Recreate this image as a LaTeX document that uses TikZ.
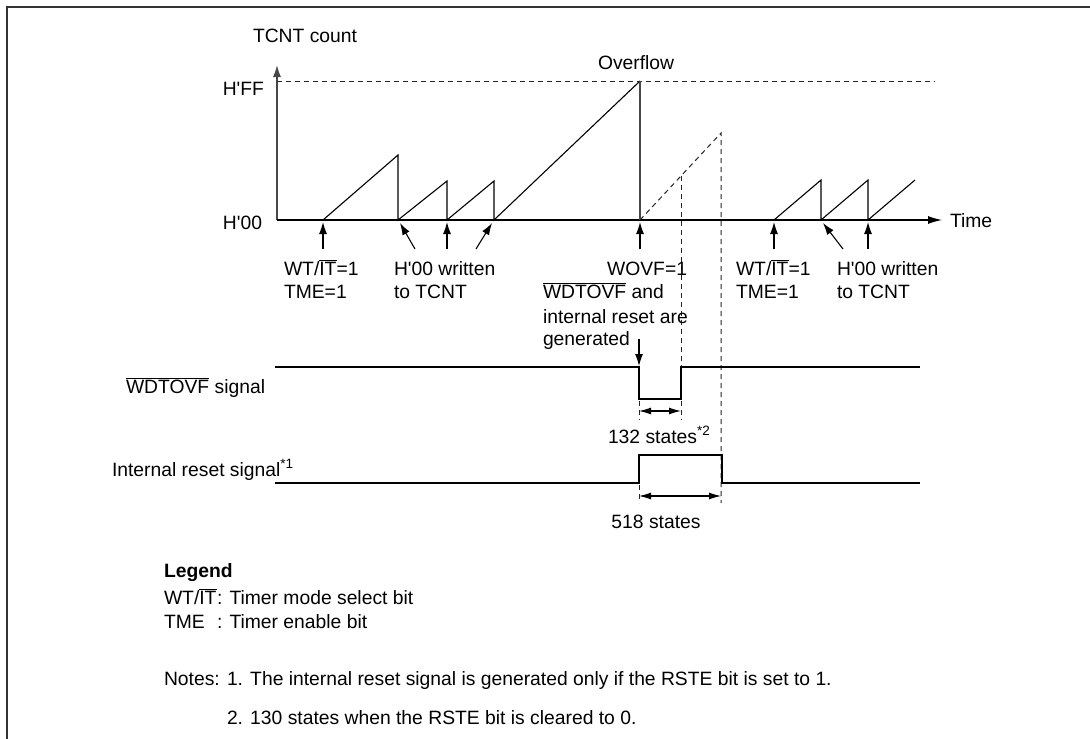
\documentclass[tikz,border=0pt]{standalone}
\usepackage{fontspec}
\setmainfont{Liberation Sans}[Ligatures=TeXOff]
\usetikzlibrary{arrows.meta}
\newcommand\fnt{\fontsize{19.3}{23}\selectfont}
\newcommand\ovl[1]{$\overline{\mbox{#1}}$}
\tikzset{
  lbl/.style={font=\fnt, inner sep=0pt, outer sep=0pt, anchor=base west},
  lble/.style={font=\fnt, inner sep=0pt, outer sep=0pt, anchor=base east},
  wave/.style={line width=1.1pt, black},
  axisline/.style={line width=1.6pt, black!72},
  dashline/.style={line width=1pt, black!85, dash pattern=on 5pt off 4pt},
  tip/.style={-{Latex[length=12pt,width=8pt]}, line width=1.1pt},
  dim/.style={{Latex[length=12pt,width=7pt]}-{Latex[length=12pt,width=7pt]}, line width=1.1pt},
  frameline/.style={line width=1.6pt, black!80}
}
\begin{document}
\begin{tikzpicture}[x=1pt,y=-1pt]
\useasboundingbox (0,0) rectangle (1090,739);
\fill[white] (0,0) rectangle (1090,739);
% frame
\draw[frameline] (7,739) -- (7,7) -- (1090,7);

% axes
\coordinate (O) at (277,220);
\coordinate (Ytop) at (277,65);
\coordinate (Tend) at (942,220);
\coordinate (FFl) at (277,81);
\coordinate (FFr) at (935,81);
\draw[axisline,-{Latex[length=12pt,width=8pt]}] (O) -- (Ytop);
\draw[wave,-{Latex[length=14pt,width=8pt]}] (O) -- (Tend);
\draw[dashline] (FFl) -- (FFr);

\node[lbl] (tcnt) at (253,42) {TCNT count};
\node[lbl] (ovf) at (598,69) {Overflow};
\node[lble] (hff) at (264,95) {H'FF};
\node[lble] (h00) at (262,229) {H'00};
\node[lbl] (time) at (950,227) {Time};

% sawtooth
\coordinate (s1) at (323,220);
\coordinate (p1) at (398,155);
\coordinate (s2) at (398,220);
\coordinate (p2) at (447,181);
\coordinate (s3) at (447,220);
\coordinate (p3) at (494,181);
\coordinate (s4) at (494,220);
\coordinate (pov) at (640,81);
\coordinate (sov) at (640,220);
\draw[wave] (s1) -- (p1) -- (s2) -- (p2) -- (s3) -- (p3) -- (s4) -- (pov);
\draw[axisline] (pov) -- (sov);
% dashed continuation
\coordinate (dpk) at (721,133);
\coordinate (dmid) at (681,176);
\draw[dashline] (sov) -- (dpk) -- (721,503);
\draw[dashline] (dmid) -- (681,420);
% second sawtooth
\coordinate (r1) at (774,220);
\coordinate (q1) at (821,180);
\coordinate (r2) at (821,220);
\coordinate (q2) at (868,180);
\coordinate (r3) at (868,220);
\coordinate (q3) at (915,180);
\draw[wave] (r1) -- (q1) -- (r2) -- (q2) -- (r3) -- (q3);

% event arrows
\draw[tip] (323,249) -- (323,222);
\draw[tip] (415,249) -- (400,223);
\draw[tip] (447,249) -- (447,222);
\draw[tip] (476,249) -- (492,223);
\draw[tip] (640,249) -- (640,222);
\draw[tip] (774,249) -- (774,222);
\draw[tip] (843,249) -- (823,223);
\draw[tip] (868,249) -- (868,222);

% event labels
\node[lbl] (wt1) at (284,275) {WT/\ovl{IT}=1};
\node[lbl] (tme1) at (284,298) {TME=1};
\node[lbl] (hw1) at (394,275) {H'00 written};
\node[lbl] (tt1) at (394,298) {to TCNT};
\node[lble] (wovf) at (687,275) {WOVF=1};
\node[lbl] (gen1) at (543,298) {\ovl{WDTOVF} and};
\node[lbl] (gen2) at (543,323) {internal reset are};
\node[lbl] (gen3) at (543,345) {generated};
\node[lbl] (wt2) at (736,275) {WT/\ovl{IT}=1};
\node[lbl] (tme2) at (736,298) {TME=1};
\node[lbl] (hw2) at (837,275) {H'00 written};
\node[lbl] (tt2) at (837,298) {to TCNT};

\draw[tip] (639,339) -- (639,366);

% WDTOVF signal
\node[lbl] (wsig) at (126,393) {\ovl{WDTOVF} signal};
\draw[wave] (275,367) -- (639,367) -- (639,399) -- (681,399) -- (681,367) -- (920,367);
\draw[dashline] (639,401) -- (639,420);
\draw[dim] (639,411) -- (681,411);
\node[lbl] (s132) at (608,443) {132 states\textsuperscript{*2}};

% internal reset signal
\node[lbl] (rsig) at (112,476) {Internal reset signal\textsuperscript{*1}};
\draw[wave] (275,483) -- (639,483) -- (639,455) -- (722,455) -- (722,483) -- (920,483);
\draw[dashline] (639,485) -- (639,503);
\draw[dim] (639,496) -- (721,496);
\node[font=\fnt, inner sep=0pt, anchor=base] (s518) at (656,528) {518 states};

% legend
\node[lbl] (leg) at (164,577) {\bfseries Legend};
\node[lbl] (lwt) at (164,604) {WT/\ovl{IT}};
\node[lbl] (lwtd) at (217,604) {: Timer mode select bit};
\node[lbl] (ltme) at (164,628) {TME};
\node[lbl] (ltmed) at (217,628) {: Timer enable bit};

% notes
\node[lbl] (notes) at (164,685) {Notes:};
\node[lbl] (n1) at (227,685) {1. The internal reset signal is generated only if the RSTE bit is set to 1.};
\node[lbl] (n2) at (227,724) {2. 130 states when the RSTE bit is cleared to 0.};
\end{tikzpicture}
\end{document}
